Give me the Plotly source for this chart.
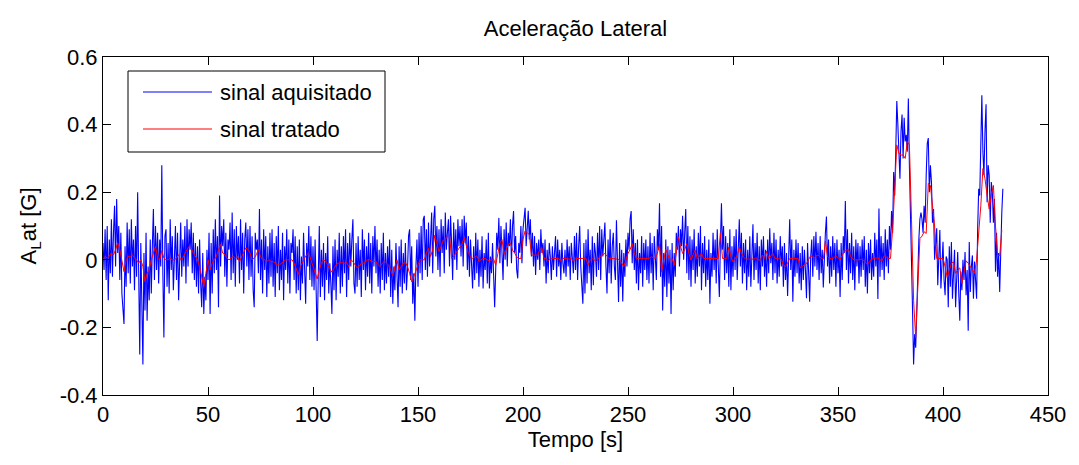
import numpy as np
import plotly.graph_objects as go

# Sampling steps of the two recorded series [s]
STEP_RAW = 0.5
STEP_FILT = 1.0

# Lateral acceleration, acquired signal [G] (one row = 10 s)
acc_raw = [
    0.05, -0.03, 0.09, -0.06, 0.10, -0.12, 0.06, -0.04, 0.12, -0.05, 0.08, 0.16, -0.02, 0.18, 0.02, 0.10, -0.06, 0.08, -0.10, -0.16,
    -0.19, 0.04, -0.08, 0.11, -0.04, 0.09, -0.07, 0.12, -0.02, 0.06, -0.09, 0.10, -0.05, 0.20, -0.08, -0.28, 0.05, -0.12, -0.31, 0.02,
    -0.15, 0.08, -0.18, -0.02, -0.12, 0.06, -0.10, 0.04, 0.15, -0.06, 0.10, -0.03, 0.08, -0.07, 0.06, -0.02, 0.28, -0.04, -0.23, 0.07,
    0.09, -0.08, 0.05, -0.10, 0.12, -0.03, 0.07, -0.09, 0.04, 0.10, -0.06, 0.08, -0.12, 0.03, 0.11, -0.05, 0.06, -0.02, 0.10, -0.07,
    0.12, -0.02, 0.09, 0.03, 0.11, -0.04, 0.08, -0.06, 0.05, -0.08, 0.04, -0.10, 0.06, -0.07, -0.14, 0.02, -0.16, -0.05, -0.12, 0.03,
    -0.06, 0.08, -0.16, 0.05, -0.10, 0.09, -0.04, 0.12, -0.03, 0.07, -0.14, 0.19, -0.02, 0.10, 0.04, 0.12, -0.05, 0.08, -0.08, 0.06,
    0.03, 0.11, -0.06, 0.14, -0.04, 0.09, -0.08, 0.10, 0.00, 0.07, -0.07, 0.12, -0.03, 0.08, -0.10, 0.06, 0.11, -0.02, 0.09, -0.06,
    0.10, -0.05, 0.07, -0.09, -0.14, 0.08, 0.03, 0.06, -0.04, 0.15, -0.06, 0.06, -0.10, 0.09, -0.03, 0.07, -0.11, 0.04, -0.07, 0.08,
    -0.05, 0.09, -0.08, 0.05, -0.11, 0.07, -0.04, 0.10, -0.09, 0.03, -0.06, 0.08, -0.12, 0.04, -0.03, 0.09, -0.07, 0.06, -0.10, 0.05,
    0.02, 0.09, -0.06, 0.07, -0.10, 0.04, -0.09, 0.06, -0.12, 0.01, -0.07, 0.08, -0.05, -0.13, 0.05, -0.02, 0.10, -0.06, 0.07, -0.08,
    0.04, -0.09, 0.06, -0.16, -0.24, -0.05, 0.10, -0.11, 0.03, -0.08, 0.05, -0.12, 0.02, -0.06, 0.07, -0.10, -0.01, -0.07, -0.16, 0.04,
    -0.09, 0.06, -0.12, 0.03, -0.05, 0.08, -0.10, 0.04, -0.08, 0.07, -0.04, 0.09, -0.11, 0.05, -0.06, 0.08, -0.02, 0.06, 0.12, -0.07,
    -0.10, 0.05, -0.08, 0.07, -0.06, 0.03, -0.11, 0.09, -0.03, 0.06, -0.09, 0.04, -0.05, 0.08, -0.07, 0.05, -0.10, 0.07, -0.02, 0.10,
    -0.04, 0.06, -0.08, 0.03, -0.10, 0.05, -0.06, 0.08, -0.09, 0.02, -0.07, 0.04, -0.05, 0.06, -0.11, 0.03, -0.13, -0.02, -0.09, 0.05,
    -0.06, -0.14, 0.04, -0.08, 0.06, -0.10, 0.02, -0.07, 0.05, -0.09, -0.03, 0.07, 0.09, -0.06, 0.04, -0.13, -0.04, -0.18, -0.02, 0.06,
    -0.08, 0.08, -0.04, 0.10, -0.06, 0.12, 0.13, -0.03, 0.09, -0.05, 0.11, -0.02, 0.06, 0.14, -0.04, 0.12, 0.16, 0.01, 0.10, -0.03,
    0.09, -0.05, 0.12, 0.02, 0.10, -0.04, 0.14, 0.03, 0.08, 0.12, -0.02, 0.13, 0.05, -0.06, 0.11, 0.00, 0.09, -0.03, 0.12, 0.04,
    0.10, 0.01, 0.12, -0.02, 0.13, 0.05, 0.11, -0.03, 0.07, -0.05, 0.06, -0.02, -0.085, 0.04, -0.06, 0.08, -0.04, 0.06, -0.08, 0.03,
    -0.05, 0.07, -0.085, 0.02, -0.03, 0.06, -0.07, 0.08, -0.085, 0.01, -0.04, 0.05, -0.02, -0.14, -0.03, 0.08, 0.03, 0.124, -0.01, 0.10,
    0.02, -0.06, 0.09, 0.00, 0.11, -0.02, 0.08, 0.04, 0.12, -0.01, 0.10, 0.144, 0.02, 0.07, -0.03, -0.055, 0.05, 0.02, 0.10, -0.01,
    0.09, 0.13, 0.154, 0.04, 0.11, 0.145, 0.06, 0.12, 0.01, 0.08, -0.02, 0.07, -0.045, 0.05, 0.00, 0.06, -0.03, 0.09, 0.02, 0.05,
    -0.02, 0.06, -0.07, 0.03, -0.04, 0.05, 0.01, -0.06, 0.04, -0.03, 0.02, 0.07, -0.05, 0.06, -0.02, 0.03, -0.06, 0.05, -0.01, -0.04,
    0.03, -0.05, 0.06, -0.02, 0.04, -0.06, 0.05, 0.00, -0.04, 0.07, -0.03, 0.08, -0.06, 0.04, 0.10, -0.02, -0.08, -0.13, 0.05, -0.10,
    0.06, -0.07, 0.09, -0.04, 0.03, -0.09, 0.07, -0.075, 0.05, 0.02, -0.05, 0.08, -0.03, 0.10, -0.06, 0.09, 0.01, 0.07, 0.11, -0.02,
    -0.10, 0.06, -0.04, 0.09, -0.07, 0.04, 0.08, -0.02, -0.06, 0.117, -0.03, -0.125, 0.05, -0.08, 0.03, -0.123, 0.02, -0.05, 0.06, -0.02,
    0.08, 0.03, 0.12, 0.144, -0.01, 0.09, -0.03, 0.05, -0.07, 0.06, -0.09, 0.02, -0.04, 0.07, -0.08, 0.05, -0.03, 0.06, -0.06, 0.04,
    -0.07, 0.08, -0.04, 0.05, -0.09, 0.07, 0.01, -0.06, 0.09, 0.03, 0.167, -0.05, 0.10, -0.15, 0.02, -0.08, 0.06, -0.11, 0.04, -0.07,
    0.03, -0.16, 0.05, -0.09, 0.02, -0.05, 0.08, 0.03, 0.10, -0.02, 0.09, 0.04, 0.13, 0.00, 0.08, 0.15, -0.04, 0.10, -0.06, 0.07,
    -0.08, 0.06, -0.03, 0.09, -0.07, 0.04, -0.05, 0.08, -0.02, 0.10, -0.09, 0.05, -0.04, 0.07, -0.08, 0.03, -0.06, 0.06, -0.13, 0.02,
    -0.05, 0.08, -0.03, 0.06, -0.07, 0.09, -0.02, -0.11, 0.05, 0.167, 0.03, 0.10, -0.06, 0.07, -0.04, 0.05, -0.08, 0.09, -0.09, 0.04,
    -0.05, 0.07, -0.03, 0.09, -0.06, 0.04, 0.12, -0.02, 0.08, -0.07, 0.05, -0.04, 0.06, -0.09, 0.03, -0.05, 0.07, -0.08, 0.04, 0.105,
    -0.06, 0.05, -0.03, 0.08, -0.07, 0.04, -0.09, 0.06, -0.02, 0.07, -0.05, 0.03, -0.08, 0.06, -0.04, 0.093, -0.01, 0.05, -0.06, 0.08,
    -0.04, 0.06, -0.07, 0.03, -0.05, 0.07, -0.02, 0.04, -0.08, 0.05, -0.06, 0.02, -0.107, 0.04, 0.12, -0.03, 0.06, -0.124, 0.03, -0.05,
    0.06, -0.04, 0.05, -0.07, 0.02, -0.09, 0.04, -0.06, 0.03, -0.03, -0.114, 0.05, -0.08, -0.124, 0.01, 0.06, -0.05, 0.07, -0.02, 0.083,
    -0.03, 0.05, -0.06, 0.07, -0.04, 0.03, -0.082, 0.02, 0.08, 0.128, -0.02, 0.06, -0.07, 0.04, -0.05, 0.07, -0.03, 0.05, -0.08, 0.06,
    -0.04, 0.03, -0.11, 0.05, -0.06, 0.07, 0.02, 0.174, -0.03, 0.09, -0.07, 0.05, -0.04, 0.08, -0.06, 0.04, -0.09, 0.06, -0.02, 0.05,
    -0.07, 0.04, -0.05, 0.06, -0.03, 0.07, -0.08, 0.03, -0.10, 0.05, -0.04, 0.06, -0.06, 0.02, -0.05, 0.08, -0.02, 0.06, -0.116, 0.152,
    -0.05, 0.07, -0.03, 0.05, -0.06, 0.09, -0.02, 0.06, -0.04, 0.10, 0.03, 0.144, 0.08, 0.26, 0.19, 0.32, 0.47, 0.40, 0.30, 0.24,
    0.38, 0.43, 0.30, 0.42, 0.35, 0.37, 0.32, 0.477, 0.28, 0.11, -0.10, -0.15, -0.31, -0.22, -0.26, -0.12, 0.02, 0.06, 0.12, 0.14,
    0.12, 0.08, 0.16, 0.11, 0.25, 0.344, 0.36, 0.20, 0.28, 0.23, 0.11, 0.15, 0.00, 0.05, 0.093, -0.075, 0.03, 0.088, -0.085, 0.02,
    0.053, -0.06, -0.105, 0.01, 0.00, -0.14, 0.04, -0.08, 0.053, -0.115, -0.015, 0.03, -0.14, -0.05, 0.023, -0.10, -0.18, -0.035, -0.09, 0.00,
    -0.06, 0.023, -0.105, -0.03, -0.21, 0.053, -0.095, -0.02, 0.013, -0.115, -0.005, -0.06, -0.115, 0.09, 0.21, 0.19, 0.30, 0.487, 0.32, 0.25,
    0.38, 0.46, 0.17, 0.28, 0.25, 0.11, 0.23, 0.20, 0.11, 0.18, -0.035, 0.08, -0.05, 0.02, -0.095, 0.063, 0.14, 0.21,
]

# Lateral acceleration, filtered signal [G] (one row = 10 s)
acc_filt = [
    0.00, 0.01, 0.005, 0.01, 0.02, 0.015, 0.03, 0.05, 0.03, 0.0,
    -0.035, 0.0, 0.01, 0.01, 0.015, 0.005, 0.0, -0.01, 0.0, -0.02,
    -0.065, -0.04, -0.03, 0.0, 0.02, 0.04, 0.005, 0.0, 0.027, 0.005,
    0.0, 0.0, 0.005, 0.0, 0.0, 0.005, 0.015, 0.0, 0.005, 0.02,
    0.03, 0.04, 0.035, 0.02, 0.01, 0.0, -0.02, -0.05, -0.08, -0.04,
    0.0, -0.03, -0.01, 0.0, 0.01, 0.03, 0.045, 0.02, 0.015, 0.005,
    0.0, 0.005, 0.01, 0.005, 0.01, -0.005, 0.01, 0.02, 0.035, 0.03,
    0.02, 0.0, 0.005, 0.015, 0.03, 0.01, 0.0, 0.0, -0.005, 0.0,
    -0.005, -0.005, -0.01, -0.015, -0.015, -0.01, -0.005, 0.0, 0.0, 0.0,
    0.0, -0.01, -0.03, -0.043, -0.02, -0.005, 0.005, 0.015, 0.02, 0.0,
    -0.02, -0.04, -0.057, -0.03, -0.01, 0.0, -0.005, -0.015, -0.025, -0.037,
    -0.025, -0.015, -0.01, -0.008, -0.008, -0.01, -0.008, -0.02, 0.0, -0.005,
    -0.015, -0.024, -0.02, -0.01, -0.01, -0.005, 0.0, 0.0, -0.005, -0.005,
    -0.005, -0.015, -0.02, -0.01, -0.004, -0.01, -0.016, -0.03, -0.047, -0.02,
    0.0, -0.03, -0.02, -0.01, -0.008, -0.02, -0.04, -0.065, -0.05, -0.03,
    -0.015, 0.0, 0.0, 0.0, 0.02, 0.034, 0.01, 0.03, 0.073, 0.05,
    0.024, 0.04, 0.058, 0.06, 0.07, 0.073, 0.004, 0.01, 0.019, 0.03,
    0.04, 0.048, 0.065, 0.045, 0.019, 0.01, 0.004, 0.008, 0.012, -0.004,
    0.0, 0.004, 0.004, 0.0, -0.004, 0.002, 0.002, -0.016, 0.019, 0.05,
    0.06, 0.016, 0.03, 0.045, 0.05, 0.029, 0.02, 0.009, 0.004, 0.004,
    0.06, 0.086, 0.08, 0.075, 0.014, 0.014, 0.014, 0.014, 0.03, 0.035,
    0.004, 0.004, -0.003, 0.002, 0.004, 0.004, 0.004, 0.004, -0.004, 0.004,
    0.004, 0.002, 0.002, 0.004, -0.004, 0.004, 0.004, 0.004, 0.004, 0.004,
    0.004, -0.016, 0.0, 0.004, 0.0, -0.006, 0.005, 0.012, 0.015, 0.019,
    0.01, 0.004, 0.004, 0.004, 0.004, 0.002, 0.0, -0.01, -0.02, 0.0,
    0.019, 0.03, 0.048, 0.02, 0.004, 0.004, 0.004, 0.004, 0.004, 0.004,
    0.004, 0.009, 0.006, 0.004, 0.02, 0.046, -0.035, 0.0, 0.031, 0.015,
    -0.001, 0.004, -0.016, 0.02, 0.068, 0.04, 0.019, 0.03, 0.048, 0.02,
    -0.001, 0.015, 0.029, 0.002, 0.01, 0.019, 0.004, 0.004, 0.004, 0.004,
    0.004, 0.004, 0.004, 0.004, 0.08, 0.004, 0.004, 0.004, 0.038, 0.009,
    -0.006, 0.005, 0.012, 0.038, 0.02, 0.009, 0.002, 0.002, 0.002, 0.002,
    0.002, 0.006, 0.0, -0.001, 0.014, 0.004, 0.025, 0.004, 0.01, 0.019,
    0.004, 0.004, 0.002, 0.002, -0.016, -0.02, -0.01, 0.004, 0.004, 0.004,
    0.004, 0.004, -0.024, -0.018, -0.015, -0.011, 0.0, 0.012, 0.008, 0.006,
    0.014, 0.012, 0.004, 0.002, 0.056, 0.009, 0.005, 0.002, 0.006, 0.012,
    0.006, 0.002, 0.012, 0.025, 0.028, 0.031, 0.01, 0.002, 0.0, -0.001,
    0.0, 0.002, 0.0, -0.008, -0.014, -0.005, 0.002, 0.004, 0.004, 0.006,
    0.0, -0.003, 0.012, 0.008, 0.004, 0.004, 0.09, 0.21, 0.34, 0.315,
    0.31, 0.31, 0.30, 0.35, 0.34, 0.12, -0.12, -0.23, -0.07, 0.063,
    0.07, 0.083, 0.078, 0.226, 0.22, 0.16, 0.1, 0.004, 0.004, 0.004,
    0.004, -0.02, -0.053, -0.03, -0.01, -0.006, -0.04, -0.03, -0.024, -0.07,
    -0.03, -0.003, -0.01, -0.02, -0.03, -0.04, 0.0, 0.08, 0.16, 0.27,
    0.24, 0.19, 0.15, 0.19, 0.22, 0.1, 0.014, 0.012, 0.088,
]

x_tick_vals = [0, 50, 100, 150, 200, 250, 300, 350, 400, 450]
y_tick_vals = [-0.4, -0.2, 0, 0.2, 0.4, 0.6]
y_tick_text = ["-0.4", "-0.2", "0", "0.2", "0.4", "0.6"]

chart_title = "Aceleração Lateral"
x_title = "Tempo [s]"
y_title = "A<sub>L</sub>at [G]"
series_names = ["sinal aquisitado", "sinal tratado"]
series_colors = ["#0000ff", "#ff0000"]

FONT = "Arial, 'Liberation Sans', Helvetica, sans-serif"
FONT_SIZE = 22
W, H = 1079, 465
M_L, M_R, M_T, M_B = 103, 31, 57, 70

t_raw = np.arange(len(acc_raw)) * STEP_RAW
t_filt = np.arange(len(acc_filt)) * STEP_FILT

fig = go.Figure()
fig.add_trace(go.Scatter(x=t_raw, y=acc_raw, mode="lines", name=series_names[0],
                         line=dict(color=series_colors[0], width=1.1), showlegend=False))
fig.add_trace(go.Scatter(x=t_filt, y=acc_filt, mode="lines", name=series_names[1],
                         line=dict(color=series_colors[1], width=1), showlegend=False))

# Boxed legend in the upper-left corner, placed in plot-area pixels
plot_w = W - M_L - M_R
plot_h = H - M_T - M_B


def px(x, y):
    return (x - M_L) / plot_w, (H - M_B - y) / plot_h


bx0, by0 = px(128, 71)
bx1, by1 = px(385, 152)
shapes = [dict(type="rect", xref="paper", yref="paper", x0=bx0, y0=by1, x1=bx1, y1=by0,
               line=dict(color="black", width=1), fillcolor="white", layer="above")]
annotations = []
for i, (name, color) in enumerate(zip(series_names, series_colors)):
    row_y = 92 + 37 * i
    lx0, ly = px(143, row_y)
    lx1, _ = px(212, row_y)
    tx, _ = px(218, row_y)
    shapes.append(dict(type="line", xref="paper", yref="paper", x0=lx0, y0=ly, x1=lx1, y1=ly,
                       line=dict(color=color, width=1), layer="above"))
    annotations.append(dict(xref="paper", yref="paper", x=tx, y=ly, text=name, showarrow=False,
                            xanchor="left", yanchor="middle",
                            font=dict(family=FONT, size=FONT_SIZE, color="black")))

axis_common = dict(showline=True, linecolor="black", linewidth=1, mirror="ticks",
                   ticks="inside", ticklen=8, tickcolor="black", tickwidth=1,
                   showgrid=False, zeroline=False,
                   tickfont=dict(family=FONT, size=FONT_SIZE, color="black"))

fig.update_layout(
    width=W, height=H,
    margin=dict(l=M_L, r=M_R, t=M_T, b=M_B, autoexpand=False),
    paper_bgcolor="white", plot_bgcolor="white",
    font=dict(family=FONT, size=FONT_SIZE, color="black"),
    title=dict(text=chart_title, x=0.5, xref="paper", xanchor="center",
               y=1 - 28 / H, yref="container", yanchor="middle",
               font=dict(family=FONT, size=FONT_SIZE, color="black")),
    xaxis=dict(range=[0, 450], tickvals=x_tick_vals,
               title=dict(text=x_title, standoff=4,
                          font=dict(family=FONT, size=FONT_SIZE, color="black")),
               **axis_common),
    yaxis=dict(range=[-0.4, 0.6], tickvals=y_tick_vals, ticktext=y_tick_text,
               title=dict(text=y_title, standoff=16,
                          font=dict(family=FONT, size=FONT_SIZE, color="black")),
               **axis_common),
    shapes=shapes,
    annotations=annotations,
    showlegend=False,
)

fig.write_html("out.html")
